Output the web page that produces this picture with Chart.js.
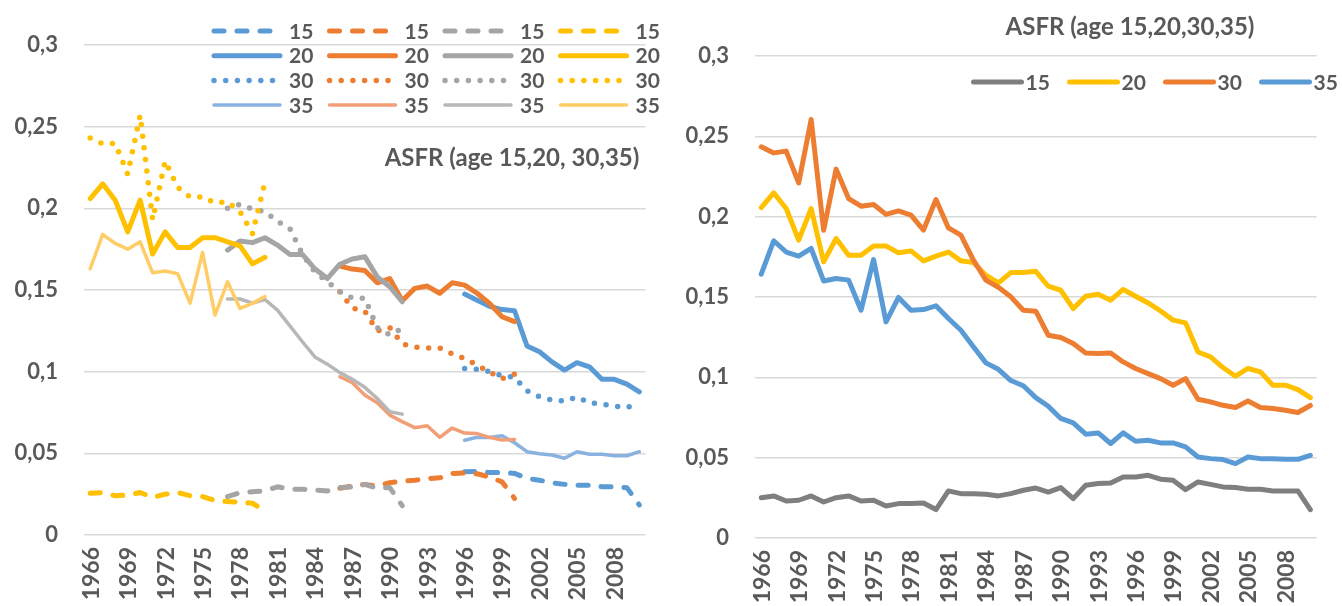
<!DOCTYPE html>
<html>
<head>
<meta charset="utf-8">
<script src="https://cdn.jsdelivr.net/npm/chart.js@4"></script>
<style>
  body { margin: 0; background: #fff; }
  .panel { position: absolute; top: 0; width: 671px; height: 606px; }
</style>
</head>
<body>
<div class="panel" style="left:0"><canvas id="leftChart"></canvas></div>
<div class="panel" style="left:671px"><canvas id="rightChart"></canvas></div>
<script>
var years = [1966, 1967, 1968, 1969, 1970, 1971, 1972, 1973, 1974, 1975,
  1976, 1977, 1978, 1979, 1980, 1981, 1982, 1983, 1984, 1985,
  1986, 1987, 1988, 1989, 1990, 1991, 1992, 1993, 1994, 1995,
  1996, 1997, 1998, 1999, 2000, 2001, 2002, 2003, 2004, 2005,
  2006, 2007, 2008, 2009, 2010];
var ages = ["15", "20", "30", "35"];

// left chart: four sources, 15 years each
var yellowStart = 1966, grayStart = 1977, orangeStart = 1986, blueStart = 1996;

var yellow15 = [0.0255, 0.026, 0.024, 0.0245, 0.026, 0.023, 0.025, 0.026, 0.024, 0.0235, 0.021, 0.0205, 0.020, 0.0195, 0.0145];
var yellow20 = [0.206, 0.215, 0.205, 0.1856, 0.205, 0.172, 0.1856, 0.176, 0.176, 0.182, 0.182, 0.1795, 0.177, 0.166, 0.170];
var yellow30 = [0.243, 0.2395, 0.2397, 0.221, 0.257, 0.193, 0.229, 0.2128, 0.207, 0.207, 0.2034, 0.204, 0.198, 0.1846, 0.216];
var yellow35 = [0.163, 0.184, 0.1785, 0.175, 0.1795, 0.1605, 0.1616, 0.160, 0.142, 0.173, 0.1346, 0.155, 0.1387, 0.1418, 0.146];

var gray15 = [0.0235, 0.026, 0.0265, 0.027, 0.0295, 0.028, 0.028, 0.0275, 0.027, 0.029, 0.0295, 0.031, 0.0286, 0.029, 0.018];
var gray20 = [0.1744, 0.180, 0.179, 0.182, 0.1775, 0.1718, 0.1718, 0.163, 0.157, 0.1658, 0.169, 0.1704, 0.158, 0.152, 0.1428];
var gray30 = [0.200, 0.2025, 0.1995, 0.198, 0.192, 0.1875, 0.172, 0.161, 0.155, 0.149, 0.145, 0.145, 0.127, 0.1225, 0.1265];
var gray35 = [0.1445, 0.1445, 0.142, 0.1442, 0.1377, 0.128, 0.1183, 0.109, 0.1046, 0.0994, 0.0953, 0.0904, 0.0836, 0.0755, 0.074];

var orange15 = [0.0286, 0.030, 0.031, 0.030, 0.032, 0.033, 0.0335, 0.0345, 0.035, 0.0377, 0.038, 0.0375, 0.0355, 0.0325, 0.0224];
var orange20 = [0.1646, 0.1628, 0.162, 0.1544, 0.157, 0.1434, 0.151, 0.1524, 0.148, 0.1544, 0.153, 0.148, 0.1418, 0.1336, 0.1306];
var orange30 = [0.149, 0.139, 0.137, 0.125, 0.127, 0.117, 0.115, 0.1145, 0.1145, 0.111, 0.108, 0.104, 0.0998, 0.0957, 0.0985];
var orange35 = [0.0969, 0.0932, 0.0857, 0.081, 0.0734, 0.0694, 0.0657, 0.0669, 0.0598, 0.0655, 0.0624, 0.0621, 0.0598, 0.0581, 0.0585];

var blue15 = [0.0387, 0.039, 0.0383, 0.0383, 0.0377, 0.0347, 0.0335, 0.032, 0.031, 0.0305, 0.0305, 0.0296, 0.0296, 0.029, 0.0184];
var blue20 = [0.1475, 0.1438, 0.140, 0.138, 0.1373, 0.1157, 0.1122, 0.106, 0.101, 0.1055, 0.103, 0.0953, 0.0953, 0.0924, 0.0877];
var blue30 = [0.102, 0.1014, 0.100, 0.0975, 0.0965, 0.0883, 0.0847, 0.0826, 0.082, 0.0845, 0.081, 0.080, 0.079, 0.078, 0.0806];
var blue35 = [0.058, 0.0598, 0.0597, 0.0608, 0.0565, 0.051, 0.0497, 0.049, 0.047, 0.051, 0.0494, 0.0494, 0.0485, 0.0485, 0.051];

// right chart: full series 1966-2010
var asfr15 = [0.0251, 0.0262, 0.023, 0.0235, 0.0262, 0.0224, 0.0251, 0.0262, 0.023, 0.0235,
  0.0199, 0.0214, 0.0214, 0.0218, 0.0177, 0.0293, 0.0276, 0.0276, 0.0272, 0.0262,
  0.0276, 0.0297, 0.0311, 0.0286, 0.0314, 0.0245, 0.0328, 0.0339, 0.0342, 0.038,
  0.038, 0.039, 0.0366, 0.0359, 0.0301, 0.0349, 0.0334, 0.0318, 0.0314, 0.0303,
  0.0303, 0.0293, 0.0293, 0.0293, 0.0177];
var asfr20 = [0.2057, 0.2148, 0.2051, 0.1854, 0.2051, 0.1719, 0.1864, 0.176, 0.176, 0.1818,
  0.1818, 0.1775, 0.1787, 0.1725, 0.1754, 0.178, 0.1725, 0.1715, 0.1636, 0.1588,
  0.1652, 0.1652, 0.166, 0.1567, 0.1542, 0.1428, 0.1505, 0.1517, 0.148, 0.1547,
  0.1505, 0.1463, 0.1413, 0.1356, 0.1339, 0.1158, 0.1127, 0.1061, 0.1007, 0.1055,
  0.1034, 0.0951, 0.0951, 0.0924, 0.0874];
var asfr30 = [0.2435, 0.2397, 0.2408, 0.221, 0.2605, 0.1916, 0.2296, 0.2113, 0.2065, 0.2076,
  0.2014, 0.2036, 0.201, 0.1916, 0.2107, 0.193, 0.1885, 0.173, 0.1605, 0.156,
  0.1501, 0.1418, 0.1412, 0.1262, 0.1248, 0.121, 0.1152, 0.1148, 0.1152, 0.1096,
  0.1055, 0.1023, 0.0992, 0.0951, 0.0992, 0.0864, 0.0847, 0.0826, 0.0812, 0.0853,
  0.0812, 0.0806, 0.0795, 0.0781, 0.0825];
var asfr35 = [0.1642, 0.185, 0.178, 0.1754, 0.1802, 0.16, 0.1615, 0.1605, 0.1418, 0.1733,
  0.1345, 0.1497, 0.1418, 0.1422, 0.1445, 0.1366, 0.1293, 0.119, 0.109, 0.105,
  0.098, 0.0948, 0.0874, 0.082, 0.0744, 0.0716, 0.0646, 0.0654, 0.0588, 0.0654,
  0.0602, 0.0608, 0.0592, 0.0592, 0.0567, 0.0504, 0.0494, 0.0488, 0.0463, 0.0504,
  0.0494, 0.0494, 0.049, 0.049, 0.0515];

Chart.defaults.font.family = "Lato";
var textColor = "#595959";

// put a 15-year segment at its place on the 1966-2010 axis
function place(start, values) {
  return years.map(function (y) {
    var k = y - start;
    return k >= 0 && k < values.length ? values[k] : null;
  });
}

function makeScales(axisHeight) {
  return {
    x: {
      offset: true,
      grid: { display: false },
      border: { display: false },
      ticks: {
        autoSkip: false, minRotation: 90, maxRotation: 90, padding: 4, labelOffset: 1,
        color: textColor, font: { size: 23, weight: "bold" },
        callback: function (v, i) { return i % 3 === 0 ? this.getLabelForValue(v) : ""; }
      },
      afterFit: function (s) { s.height = axisHeight; }
    },
    y: {
      min: 0, max: 0.3,
      grid: { color: "#D9D9D9", lineWidth: 1.5, drawTicks: false },
      border: { display: false },
      ticks: {
        stepSize: 0.05, padding: 26, color: textColor, font: { size: 22, weight: "bold" },
        callback: function (v) { return String(Math.round(v * 100) / 100).replace(".", ","); }
      },
      afterFit: function (s) { s.width = 84; }
    }
  };
}

var sources = [
  { start: blueStart, color: "#5B9BD5", light: "#8AB2E1", values: [blue15, blue20, blue30, blue35] },
  { start: orangeStart, color: "#ED7D31", light: "#F29F78", values: [orange15, orange20, orange30, orange35] },
  { start: grayStart, color: "#A5A5A5", light: "#B7B7B7", values: [gray15, gray20, gray30, gray35] },
  { start: yellowStart, color: "#FFC000", light: "#FFCC66", values: [yellow15, yellow20, yellow30, yellow35] }
];
var ageStyles = [
  { dash: [10, 13], width: 5 },
  { dash: [], width: 5 },
  { dash: [0, 11.7], width: 5.5 },
  { dash: [], width: 3.5 }
];

var leftSets = [];
ages.forEach(function (age, a) {
  sources.forEach(function (src) {
    leftSets.push({
      label: age,
      data: place(src.start, src.values[a]),
      borderColor: a === 3 ? src.light : src.color,
      borderWidth: ageStyles[a].width,
      borderDash: ageStyles[a].dash,
      borderCapStyle: "round",
      borderJoinStyle: "round",
      pointRadius: 0,
      order: 100 - leftSets.length
    });
  });
});

// 4x4 legend grid + title for the left chart
var leftExtras = {
  id: "leftExtras",
  afterDraw: function (chart) {
    var ctx = chart.ctx;
    ctx.save();
    chart.data.datasets.forEach(function (ds, i) {
      var x0 = 214 + (i % 4) * 115.5;
      var y = 31 + Math.floor(i / 4) * 24.7;
      ctx.beginPath();
      ctx.strokeStyle = ds.borderColor;
      ctx.lineWidth = ds.borderWidth;
      ctx.lineCap = "round";
      ctx.setLineDash(ds.borderDash);
      ctx.moveTo(x0, y);
      ctx.lineTo(x0 + 66, y);
      ctx.stroke();
      ctx.setLineDash([]);
      ctx.fillStyle = textColor;
      ctx.font = "bold 21px Lato";
      ctx.textBaseline = "middle";
      ctx.fillText(ds.label, x0 + 75, y + 1);
    });
    ctx.font = "bold 24px Lato";
    ctx.textAlign = "center";
    ctx.fillText("ASFR (age 15,20, 30,35)", 512, 158);
    ctx.restore();
  }
};

new Chart(document.getElementById("leftChart"), {
  type: "line",
  data: { labels: years, datasets: leftSets },
  options: {
    responsive: true,
    maintainAspectRatio: false,
    animation: false,
    layout: { padding: { top: 45, right: 4 } },
    scales: makeScales(71),
    plugins: { legend: { display: false }, tooltip: { enabled: false } }
  },
  plugins: [leftExtras]
});

var rightColors = ["#7F7F7F", "#FFC000", "#ED7D31", "#5B9BD5"];
var rightValues = [asfr15, asfr20, asfr30, asfr35];
var rightSets = ages.map(function (age, i) {
  return {
    label: age,
    data: rightValues[i],
    borderColor: rightColors[i],
    borderWidth: 5,
    borderCapStyle: "round",
    borderJoinStyle: "round",
    pointRadius: 0,
    order: 10 - i
  };
});

var rightExtras = {
  id: "rightExtras",
  afterDraw: function (chart) {
    var ctx = chart.ctx;
    ctx.save();
    chart.data.datasets.forEach(function (ds, i) {
      var x0 = 302.5 + i * 96;
      var y = 82;
      ctx.beginPath();
      ctx.strokeStyle = ds.borderColor;
      ctx.lineWidth = 5;
      ctx.lineCap = "round";
      ctx.moveTo(x0, y);
      ctx.lineTo(x0 + 48, y);
      ctx.stroke();
      ctx.fillStyle = textColor;
      ctx.font = "bold 21px Lato";
      ctx.textBaseline = "middle";
      ctx.fillText(ds.label, x0 + 52, y + 1);
    });
    ctx.font = "bold 24px Lato";
    ctx.textAlign = "center";
    ctx.textBaseline = "middle";
    ctx.fillText("ASFR (age 15,20,30,35)", 459, 27);
    ctx.restore();
  }
};

new Chart(document.getElementById("rightChart"), {
  type: "line",
  data: { labels: years, datasets: rightSets },
  options: {
    responsive: true,
    maintainAspectRatio: false,
    animation: false,
    layout: { padding: { top: 56, right: 4 } },
    scales: makeScales(68),
    plugins: { legend: { display: false }, tooltip: { enabled: false } }
  },
  plugins: [rightExtras]
});
</script>
</body>
</html>
